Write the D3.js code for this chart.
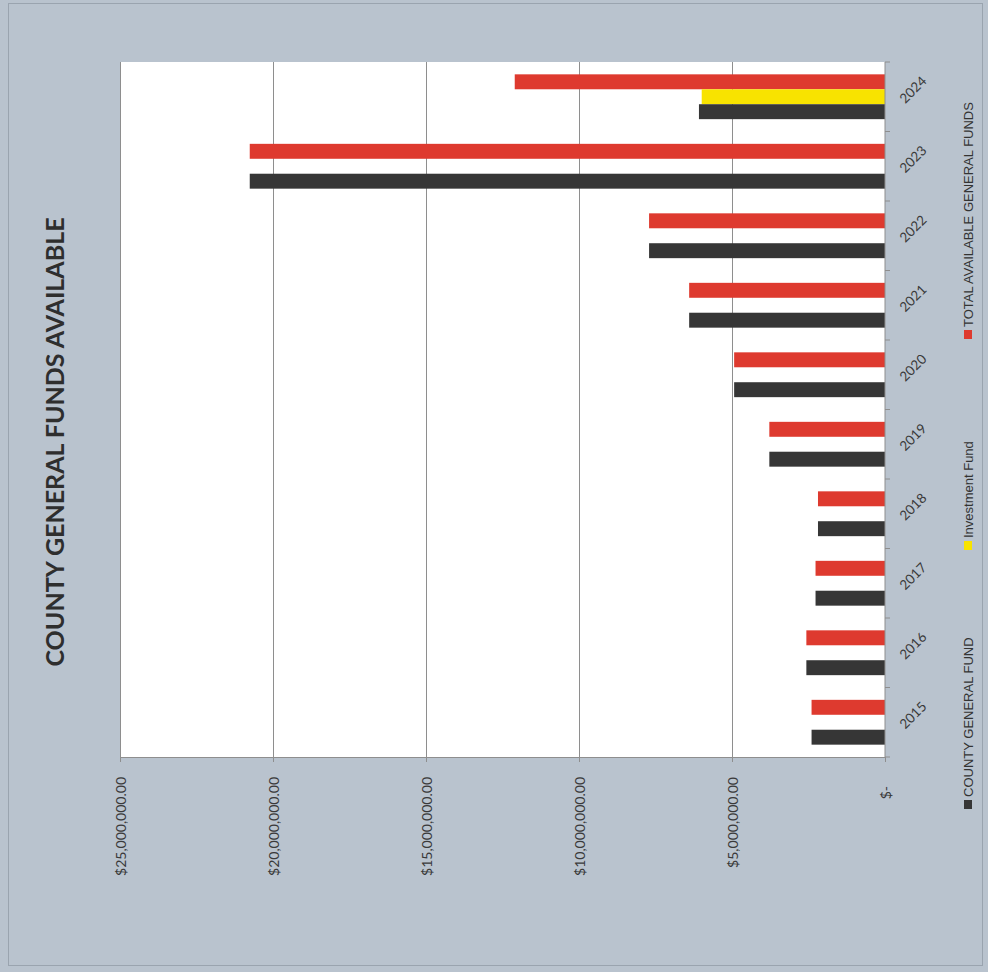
<!DOCTYPE html>
<html>
<head>
<meta charset="utf-8">
<script src="https://cdn.jsdelivr.net/npm/d3@7"></script>
<style>
  body { margin: 0; background: #b9c3ce; }
  svg { display: block; }
  text { font-family: Lato, "Open Sans", "DejaVu Sans", sans-serif; }
</style>
</head>
<body>
<svg id="chart" width="988" height="972"></svg>
<script>
// Fiscal years shown on the category axis
const years = ["2015", "2016", "2017", "2018", "2019", "2020", "2021", "2022", "2023", "2024"];

// Year-end balances, in dollars
const countyGeneralFund = [2.40e6, 2.57e6, 2.27e6, 2.19e6, 3.78e6, 4.93e6, 6.40e6, 7.71e6, 20.76e6, 6.08e6];
const investmentFund    = [0, 0, 0, 0, 0, 0, 0, 0, 0, 5.99e6];
const totalAvailable    = [2.40e6, 2.57e6, 2.27e6, 2.19e6, 3.78e6, 4.93e6, 6.40e6, 7.71e6, 20.76e6, 12.10e6];

// Value axis ticks
const valueTicks = [0, 5e6, 10e6, 15e6, 20e6, 25e6];

const seriesKeys   = ["total", "investment", "county"];
const seriesLabels = ["TOTAL AVAILABLE GENERAL FUNDS", "Investment Fund", "COUNTY GENERAL FUND"];
const seriesColors = ["#de3a2f", "#f8e300", "#363636"];

const rows = years.map((yr, i) => ({
  year: yr,
  total: totalAvailable[i],
  investment: investmentFund[i],
  county: countyGeneralFund[i]
}));

const svg = d3.select("#chart");

// Page frame
svg.append("rect")
  .attr("x", 8.5).attr("y", 3.5).attr("width", 974).attr("height", 962)
  .attr("fill", "none").attr("stroke", "#9aa4af").attr("stroke-width", 1);

// Plot box (the chart is laid on its side: values run right-to-left, years top-to-bottom)
const plot = { left: 120, right: 885, top: 62, bottom: 757 };

const x = d3.scaleLinear().domain([0, 25e6]).range([plot.right, plot.left]);

const y = d3.scaleBand()
  .domain(years.slice().reverse())
  .range([plot.top, plot.bottom])
  .paddingInner(0.355)
  .paddingOuter(0.1775);

const ySub = d3.scaleBand().domain(seriesKeys).range([0, y.bandwidth()]);

svg.append("rect")
  .attr("x", plot.left).attr("y", plot.top)
  .attr("width", plot.right - plot.left).attr("height", plot.bottom - plot.top)
  .attr("fill", "#ffffff");

// Gridlines
svg.append("g")
  .selectAll("line")
  .data(valueTicks.filter(v => v > 0))
  .join("line")
  .attr("x1", d => x(d)).attr("x2", d => x(d))
  .attr("y1", plot.top).attr("y2", plot.bottom)
  .attr("stroke", "#8e8e8e").attr("stroke-width", 1)
  .attr("shape-rendering", "crispEdges");

// Bars
const groups = svg.append("g")
  .selectAll("g")
  .data(rows)
  .join("g")
  .attr("transform", d => `translate(0,${y(d.year)})`);

groups.selectAll("rect")
  .data(d => seriesKeys.map((k, i) => ({ key: k, value: d[k], color: seriesColors[i] })).filter(s => s.value > 0))
  .join("rect")
  .attr("x", s => x(s.value))
  .attr("y", s => ySub(s.key))
  .attr("width", s => x(0) - x(s.value))
  .attr("height", ySub.bandwidth())
  .attr("fill", s => s.color);

// Value axis along the bottom, labels turned to read upward
const fmt = d => d === 0 ? "$-" : "$" + d3.format(",.2f")(d);
const xAxis = svg.append("g")
  .attr("transform", `translate(0,${plot.bottom})`)
  .call(d3.axisBottom(x).tickValues(valueTicks).tickSize(5).tickFormat(fmt));
xAxis.select(".domain").attr("stroke", "#8e8e8e");
xAxis.selectAll(".tick line").attr("stroke", "#8e8e8e");
xAxis.selectAll(".tick text")
  .attr("transform", "rotate(-90)")
  .attr("x", d => d === 0 ? -29 : -20)
  .attr("y", 0)
  .attr("dy", "0.36em")
  .attr("text-anchor", "end")
  .attr("fill", "#3a3a3a")
  .style("font-size", "14px");

// Category axis on the right, ticks between categories
const yAxis = svg.append("g");
yAxis.append("line")
  .attr("x1", plot.right).attr("x2", plot.right)
  .attr("y1", plot.top).attr("y2", plot.bottom)
  .attr("stroke", "#8e8e8e");
yAxis.selectAll("line.tick")
  .data(d3.range(years.length + 1))
  .join("line")
  .attr("class", "tick")
  .attr("x1", plot.right).attr("x2", plot.right + 5)
  .attr("y1", i => y.range()[0] + i * y.step())
  .attr("y2", i => y.range()[0] + i * y.step())
  .attr("stroke", "#8e8e8e");
yAxis.selectAll("text")
  .data(years)
  .join("text")
  .attr("transform", yr => `translate(913,${y(yr) + y.bandwidth() / 2 - 7}) rotate(-45)`)
  .attr("text-anchor", "middle")
  .attr("dy", "0.35em")
  .attr("fill", "#3a3a3a")
  .style("font-size", "13.5px")
  .text(yr => yr);

// Title
svg.append("text")
  .attr("transform", "translate(64,442) rotate(-90)")
  .attr("text-anchor", "middle")
  .attr("fill", "#2e2e2e")
  .style("font-size", "25px")
  .style("font-weight", "700")
  .text("COUNTY GENERAL FUNDS AVAILABLE");

// Legend, stacked along the right edge reading upward
const legendY = [805, 546, 335];
const legendOrder = [2, 1, 0];
const legend = svg.append("g")
  .selectAll("g")
  .data(legendOrder)
  .join("g")
  .attr("transform", (k, i) => `translate(968,${legendY[i]})`);
legend.append("rect")
  .attr("x", -4).attr("y", -5).attr("width", 8).attr("height", 9)
  .attr("fill", k => seriesColors[k]);
legend.append("text")
  .attr("transform", "translate(5,-8) rotate(-90)")
  .attr("text-anchor", "start")
  .attr("fill", "#333")
  .style("font-family", "'Liberation Sans', Arial, sans-serif")
  .style("font-size", "13px")
  .text(k => seriesLabels[k]);
</script>
</body>
</html>
